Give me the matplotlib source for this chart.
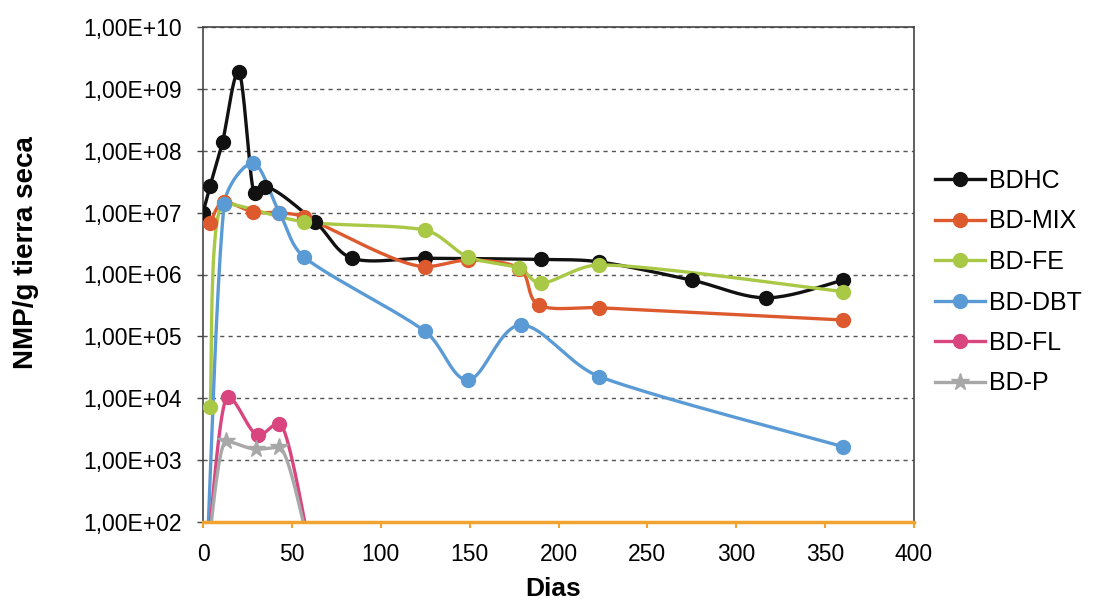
import numpy as np
import matplotlib
matplotlib.use("Agg")
import matplotlib.pyplot as plt
from matplotlib.lines import Line2D
from matplotlib.ticker import FixedLocator, FuncFormatter

plt.rcParams['font.family'] = ['Liberation Sans', 'DejaVu Sans']

# data (days, NMP/g)
series_names = ['BDHC', 'BD-MIX', 'BD-FE', 'BD-DBT', 'BD-FL', 'BD-P']

bdhc_days = [0, 4, 11, 20, 29, 35, 63, 84, 125, 190, 223, 275, 317, 360]
bdhc_vals = [1.0e7, 2.7e7, 1.4e8, 1.9e9, 2.05e7, 2.6e7, 7.1e6, 1.83e6, 1.83e6,
             1.75e6, 1.6e6, 8.1e5, 4.2e5, 8.1e5]

mix_days = [4, 12, 28, 43, 57, 125, 149, 178, 189, 223, 360]
mix_vals = [6.9e6, 1.5e7, 1.03e7, 1.0e7, 8.5e6, 1.34e6, 1.7e6, 1.25e6, 3.2e5,
            2.9e5, 1.84e5]

fe_days = [4, 12, 57, 125, 149, 178, 190, 223, 360]
fe_vals = [7.3e3, 1.4e7, 7.1e6, 5.2e6, 1.94e6, 1.26e6, 7.2e5, 1.43e6, 5.3e5]

dbt_days = [2, 12, 28, 43, 57, 125, 149, 179, 223, 360]
dbt_vals = [20, 1.4e7, 6.3e7, 1.0e7, 1.9e6, 1.2e5, 1.97e4, 1.53e5, 2.24e4, 1.65e3]

fl_days = [2, 14, 31, 43, 62]
fl_vals = [20, 1.06e4, 2.55e3, 3.9e3, 20]

p_days = [2, 13, 30, 43, 62]
p_vals = [20, 2.0e3, 1.5e3, 1.6e3, 20]

x_ticks = [0, 50, 100, 150, 200, 250, 300, 350, 400]
y_ticks = [1e2, 1e3, 1e4, 1e5, 1e6, 1e7, 1e8, 1e9, 1e10]

colors = ['#111111', '#dd5a2e', '#a9c845', '#5b9bd5', '#d8457f', '#a8a8a8']
markers = ['o', 'o', 'o', 'o', 'o', '*']

PX_DAY = 1.7775   # pixels per day
PX_DEC = 61.875   # pixels per decade


def smooth(days, vals, n=24, k=0.35):
    # smoothed line like the spreadsheet one, computed in pixel-like units
    X = np.asarray(days, float) * PX_DAY
    Y = np.log10(np.asarray(vals, float)) * PX_DEC
    P = np.column_stack([X, Y])
    m = len(P)
    T = np.zeros_like(P)
    for i in range(m):
        a = P[max(i - 1, 0)]
        b = P[min(i + 1, m - 1)]
        T[i] = (b - a) / 6.0
        if 0 < i < m - 1 and (P[i, 1] - a[1]) * (b[1] - P[i, 1]) < 0:
            T[i, 1] = 0.0  # no overshoot at peaks / dips
    out = [P[0]]
    for i in range(m - 1):
        p1, p2 = P[i], P[i + 1]
        L = np.hypot(*(p2 - p1))
        t1, t2 = T[i].copy(), T[i + 1].copy()
        for t in (t1, t2):
            ln = np.hypot(*t)
            if ln > k * L:
                t *= k * L / ln
        c1 = p1 + t1
        c2 = p2 - t2
        s = np.linspace(0, 1, n)[1:, None]
        seg = ((1 - s) ** 3) * p1 + 3 * ((1 - s) ** 2) * s * c1 \
            + 3 * (1 - s) * s ** 2 * c2 + s ** 3 * p2
        out.extend(seg)
    out = np.array(out)
    return out[:, 0] / PX_DAY, 10 ** (out[:, 1] / PX_DEC)


fig = plt.figure(figsize=(10.93, 6.05), dpi=100)
ax = fig.add_axes([203 / 1093, 1 - 522 / 605, (914 - 203) / 1093, (522 - 27) / 605])

all_data = [(bdhc_days, bdhc_vals), (mix_days, mix_vals), (fe_days, fe_vals),
            (dbt_days, dbt_vals), (fl_days, fl_vals), (p_days, p_vals)]

handles = []
for (d, v), name, c, m in zip(all_data, series_names, colors, markers):
    sx, sy = smooth(d, v)
    ax.plot(sx, sy, color=c, lw=2.4, zorder=3)
    ms = 13 if m == '*' else 10
    ax.plot(d, v, ls='none', marker=m, ms=ms, color=c, zorder=4)
    handles.append(Line2D([], [], color=c, lw=2.4, marker=m, ms=ms, label=name))

ax.set_yscale('log')
ax.set_xlim(0, 400)
ax.set_ylim(1e2, 1e10)
ax.xaxis.set_major_locator(FixedLocator(x_ticks))
ax.yaxis.set_major_locator(FixedLocator(y_ticks))
ax.yaxis.set_minor_locator(FixedLocator([]))
ax.yaxis.set_major_formatter(FuncFormatter(
    lambda v, p: '1,00E+%02d' % int(round(np.log10(v)))))

ax.grid(axis='y', which='major', color='#555555', ls=(0, (3, 3)), lw=1.0)
ax.set_axisbelow(True)

for s in ['left', 'top', 'right']:
    ax.spines[s].set_color('#444444')
    ax.spines[s].set_linewidth(1.2)
ax.spines['bottom'].set_color('#f0a32e')
ax.spines['bottom'].set_linewidth(2.5)
ax.spines['bottom'].set_zorder(5)

ax.tick_params(axis='x', colors='#f0a32e', length=4, width=1.5, labelsize=16.5,
               labelcolor='black', pad=11)
ax.tick_params(axis='y', colors='#444444', length=4, width=1, labelsize=16.5,
               labelcolor='black', pad=11)

ax.set_xlabel('Dias', fontsize=19, fontweight='bold')
ax.xaxis.set_label_coords((553 - 203) / 711, (522 - 589) / 495)
ax.xaxis.label.set_va('center')
ax.set_ylabel('NMP/g tierra seca', fontsize=20, fontweight='bold')
ax.yaxis.set_label_coords((26 - 203) / 711, (522 - 253) / 495)
ax.yaxis.label.set_va('center')

fig.legend(handles=handles, loc='upper left', bbox_to_anchor=(935 / 1093, 1 - 169 / 605),
           frameon=False, fontsize=18, handlelength=2.0, handletextpad=0.15,
           labelspacing=0.66, borderpad=0, borderaxespad=0)

fig.savefig('out.png', dpi=100)
